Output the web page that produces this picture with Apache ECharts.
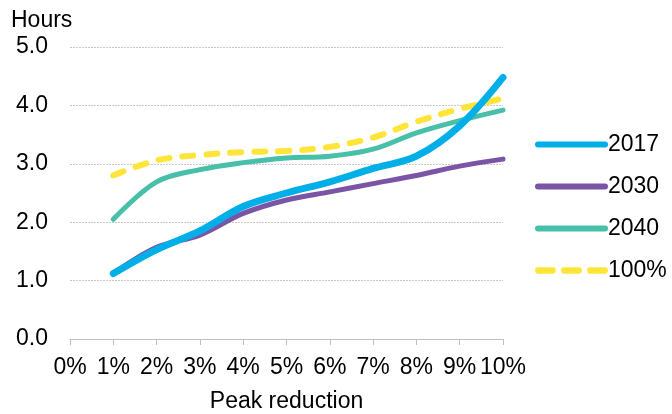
<!DOCTYPE html>
<html>
<head>
<meta charset="utf-8">
<script src="https://cdn.jsdelivr.net/npm/echarts@6/dist/echarts.min.js"></script>
<style>html,body{margin:0;padding:0;background:#fff}#c{width:672px;height:414px}</style>
</head>
<body>
<div id="c"></div>
<script>
const xValues = [1, 2, 3, 4, 5, 6, 7, 8, 9, 10];
const s2017 = [1.12, 1.53, 1.85, 2.27, 2.5, 2.69, 2.92, 3.13, 3.65, 4.48];
const s2030 = [1.12, 1.57, 1.78, 2.15, 2.38, 2.52, 2.66, 2.8, 2.96, 3.08];
const s2040 = [2.05, 2.69, 2.9, 3.02, 3.1, 3.13, 3.25, 3.53, 3.74, 3.92];
const s100 = [2.8, 3.06, 3.15, 3.2, 3.22, 3.29, 3.45, 3.72, 3.94, 4.12];
const seriesNames = ['2017', '2030', '2040', '100%'];
const xTickLabels = ['0%', '1%', '2%', '3%', '4%', '5%', '6%', '7%', '8%', '9%', '10%'];

const font = 'Liberation Sans, Arial, sans-serif';
const pairs = arr => xValues.map((x, i) => [x, arr[i]]);
function mk(name, data, color, width, type) {
  return {
    name, type: 'line', data: pairs(data), smooth: 0.35, symbol: 'none',
    lineStyle: { color, width, type: type || 'solid', cap: 'round', join: 'round' },
    itemStyle: { color }
  };
}
const solidIcon = 'path://M3,0h66a3,3 0 0 1 0,6h-66a3,3 0 0 1 0,-6z';
const dashIcon = 'path://M3,0h14a3,3 0 0 1 0,6h-14a3,3 0 0 1 0,-6zM28,0h14a3,3 0 0 1 0,6h-14a3,3 0 0 1 0,-6zM53,0h14a3,3 0 0 1 0,6h-14a3,3 0 0 1 0,-6z';
const chart = echarts.init(document.getElementById('c'));
chart.setOption({
  animation: false,
  title: { text: 'Hours', left: 6, top: 4, textStyle: { fontFamily: font, fontSize: 23, fontWeight: 'normal', color: '#000' } },
  grid: { left: 70, right: 169, top: 47, bottom: 75, containLabel: false, outerBoundsMode: 'none' },
  legend: {
    orient: 'vertical', left: 530, top: 128, itemWidth: 73, itemHeight: 7, itemGap: 19,
    textStyle: { fontFamily: font, fontSize: 23, color: '#000', padding: [0, 0, 0, -5] },
    data: [
      { name: seriesNames[0], icon: solidIcon },
      { name: seriesNames[1], icon: solidIcon },
      { name: seriesNames[2], icon: solidIcon },
      { name: seriesNames[3], icon: dashIcon }
    ]
  },
  xAxis: {
    type: 'value', min: 0, max: 10, interval: 1,
    name: 'Peak reduction', nameLocation: 'middle', nameGap: 51,
    nameTextStyle: { fontFamily: font, fontSize: 23, color: '#000' },
    axisLine: { lineStyle: { color: '#bfbfbf', width: 1 } },
    axisTick: { show: true, length: 6, lineStyle: { color: '#bfbfbf' } },
    axisLabel: { fontFamily: font, fontSize: 23, color: '#000', margin: 17, formatter: v => xTickLabels[v] },
    splitLine: { show: false }
  },
  yAxis: {
    type: 'value', min: 0, max: 5, interval: 1,
    axisLine: { show: false }, axisTick: { show: false },
    axisLabel: { fontFamily: font, fontSize: 23, color: '#000', margin: 22, formatter: v => v.toFixed(1) },
    splitLine: { lineStyle: { color: '#c8c8c8', type: [2, 1], width: 1 } }
  },
  series: [
    mk(seriesNames[2], s2040, '#48bfa8', 5),
    mk(seriesNames[3], s100, '#ffe53a', 6, [11, 13]),
    mk(seriesNames[1], s2030, '#7a55a6', 5),
    mk(seriesNames[0], s2017, '#00aee8', 7)
  ]
});
</script>
</body>
</html>
